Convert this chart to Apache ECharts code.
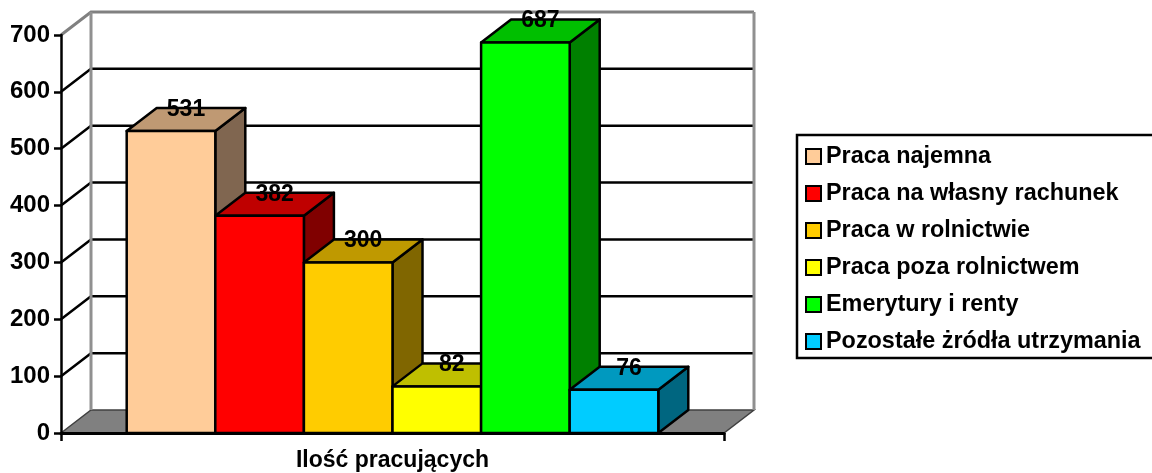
<!DOCTYPE html>
<html><head><meta charset="utf-8">
<style>html,body{margin:0;padding:0;background:#fff;overflow:hidden}#c{width:1152px;height:473px}</style>
<script src="https://cdn.jsdelivr.net/npm/echarts@6/dist/echarts.min.js"></script>
</head><body><div id="c"></div>
<script>
const categories = ['Ilość pracujących'];
const seriesNames = ['Praca najemna','Praca na własny rachunek','Praca w rolnictwie','Praca poza rolnictwem','Emerytury i renty','Pozostałe żródła utrzymania'];
const seriesValues = [531,382,300,82,687,76];
const seriesColors = ['#FFCC99','#FF0000','#FFCC00','#FFFF00','#00FF00','#00CCFF'];
const topColors = ['#BF9973','#BF0000','#BF9900','#BFBF00','#00BF00','#0099BF'];
const sideColors = ['#806650','#800000','#806600','#808000','#008000','#006680'];
const yTicks = [0,100,200,300,400,500,600,700];

const DX = 30, DY = -23;
const FONT = '"Liberation Sans", Arial, sans-serif';
const BAR_SHARE = 88.6 / 663;
const line = (pts, color, w, z2) => ({type:'polyline', z2:z2||0, shape:{points:pts}, style:{fill:null, stroke:color, lineWidth:w}});

function renderWalls(params, api) {
  const v = api.value(0);
  const p = api.coord([0, v]);
  const half = api.size([1, 0])[0] / 2;
  const xL = p[0] - half, xR = p[0] + half, y = p[1];
  const children = [];
  if (v === 0) {
    children.push({type:'polygon', shape:{points:[[xL,y],[xL+DX,y+DY],[xR+DX,y+DY],[xR,y]]},
      style:{fill:'#808080', stroke:'#404040', lineWidth:1.5}});
    return {type:'group', children};
  }
  const top = v === yTicks[yTicks.length-1];
  const c = top ? '#808080' : '#000';
  children.push(line([[xL,y],[xL+DX,y+DY],[xR+DX,y+DY]], c, top ? 3 : 2.5));
  if (top) {
    const base = api.coord([0, 0])[1];
    children.push(line([[xL+DX,y+DY],[xL+DX,base+DY]], '#909090', 3, 2));
    children.push(line([[xR+DX,y+DY],[xR+DX,base+DY]], '#909090', 3, 2));
  }
  return {type:'group', children};
}

const renderBar = i => (params, api) => {
  const val = api.value(1);
  const c = api.coord([0, val]), b = api.coord([0, 0]);
  const total = api.size([1, 0])[0];
  const w = total * BAR_SHARE;
  const x0 = c[0] + (i - seriesValues.length / 2) * w, x1 = x0 + w, yT = c[1], yB = b[1];
  const st = fill => ({fill, stroke:'#000', lineWidth:2.5, lineJoin:'round'});
  return {type:'group', children:[
    {type:'polygon', shape:{points:[[x1,yT],[x1+DX,yT+DY],[x1+DX,yB+DY],[x1,yB]]}, style:st(sideColors[i])},
    {type:'polygon', shape:{points:[[x0,yT],[x0+DX,yT+DY],[x1+DX,yT+DY],[x1,yT]]}, style:st(topColors[i])},
    {type:'rect', shape:{x:x0,y:yT,width:w,height:yB-yT}, style:st(seriesColors[i])},
    {type:'text', z2:100, style:{x:x0+w/2+DX/2, y:yT+DY+1.5, text:String(val), fill:'#000',
      font:'bold 23px '+FONT, align:'center', verticalAlign:'middle'}}
  ]};
};

const series = [{
  type:'custom', name:'__walls', silent:true, z:1, clip:false,
  renderItem:renderWalls, data:yTicks.map(t=>[t]), encode:{y:0}
}].concat(seriesNames.map((name,i)=>({
  type:'custom', name, z:3+i, clip:false, silent:true,
  itemStyle:{color:seriesColors[i]},
  renderItem:renderBar(i),
  data:[[0,seriesValues[i]]], encode:{x:0,y:1}
})));

const chart = echarts.init(document.getElementById('c'), null, {renderer:'canvas'});
chart.setOption({
  animation:false,
  backgroundColor:'#fff',
  grid:{left:61, top:35, width:663, height:398},
  xAxis:{type:'category', data:categories, z:20,
    axisLine:{lineStyle:{color:'#000', width:3}},
    axisTick:{show:true, length:8, lineStyle:{color:'#000', width:2.5}},
    axisLabel:{color:'#000', fontFamily:FONT, fontWeight:'bold', fontSize:23, margin:16},
    splitLine:{show:false}},
  yAxis:{type:'value', min:0, max:700, interval:100, z:20,
    axisLine:{show:true, lineStyle:{color:'#000', width:2.5}},
    axisTick:{show:true, length:7, lineStyle:{color:'#000', width:2.5}},
    axisLabel:{color:'#000', fontFamily:FONT, fontWeight:'bold', fontSize:24, margin:11},
    splitLine:{show:false}},
  legend:{orient:'vertical', left:797, top:135, data:seriesNames, icon:'rect',
    itemWidth:15, itemHeight:15, itemGap:14, padding:[10,16,5,8],
    selectedMode:false, borderColor:'#000', borderWidth:2.5, backgroundColor:'#fff',
    itemStyle:{borderColor:'#000', borderWidth:2},
    textStyle:{color:'#000', fontFamily:FONT, fontWeight:'bold', fontSize:23.4, lineHeight:22}},
  series
});
</script></body></html>
